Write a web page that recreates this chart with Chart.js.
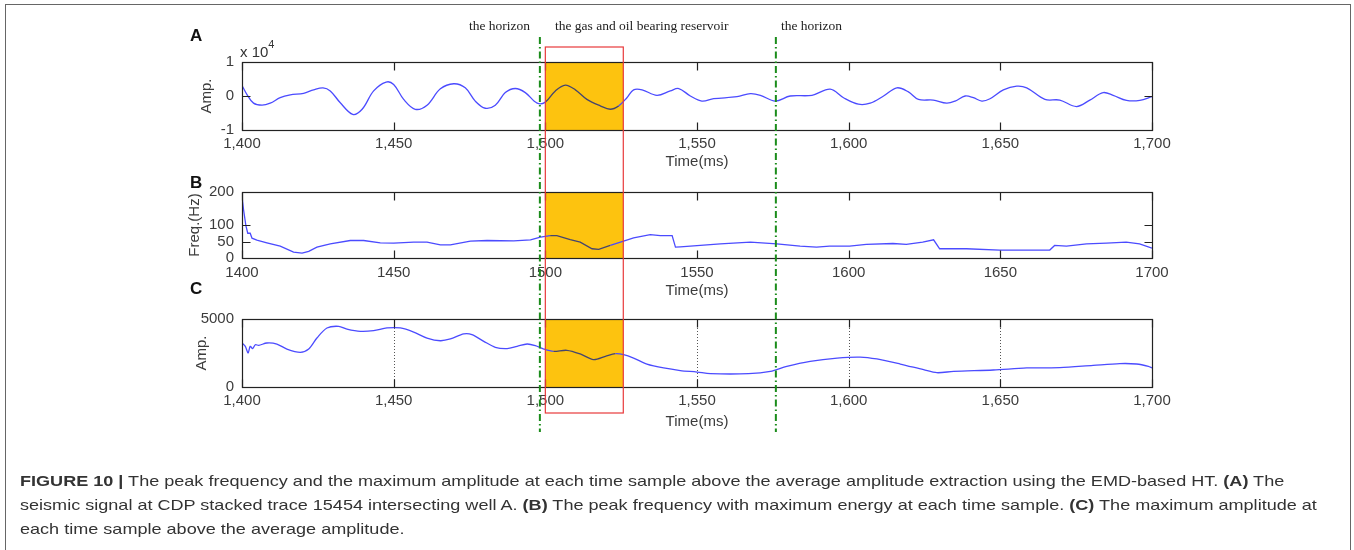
<!DOCTYPE html>
<html>
<head>
<meta charset="utf-8">
<title>Figure 10</title>
<script src="https://cdn.jsdelivr.net/npm/chart.js@4.4.1/dist/chart.umd.min.js"></script>
<style>
  body { margin:0; background:#fff; width:1354px; height:550px; overflow:hidden; position:relative;
         font-family:"Liberation Sans", Arial, sans-serif; }
  #frame { position:absolute; left:5px; top:4px; width:1344px; height:600px; border:1px solid #666; }
  canvas { position:absolute; left:0; }
  .panel { position:absolute; font-weight:bold; font-size:17px; color:#111; line-height:18px; }
  .note { position:absolute; top:18px; font-family:"Liberation Serif", "Times New Roman", serif;
          font-size:13.5px; color:#222; white-space:nowrap; }
  #scaleA { position:absolute; left:240px; top:38px; font-size:15px; color:#333; line-height:18px; }
  #scaleA sup { font-size:11px; position:relative; top:-3px; }
  #caption { position:absolute; left:20px; top:469px; font-size:15px; line-height:24px; color:#333;
             white-space:nowrap; transform:scaleX(1.204); transform-origin:0 0; }
</style>
</head>
<body>
<div id="frame"></div>

<canvas id="chartA" width="1354" height="175" style="top:0px"></canvas>
<canvas id="chartB" width="1354" height="125" style="top:175px"></canvas>
<canvas id="chartC" width="1354" height="135" style="top:300px"></canvas>
<canvas id="overlay" width="1354" height="550" style="top:0px"></canvas>

<div class="panel" style="left:190px;top:27px">A</div>
<div class="panel" style="left:190px;top:174px">B</div>
<div class="panel" style="left:190px;top:280px">C</div>
<div id="scaleA">x 10<sup>4</sup></div>

<div class="note" style="left:469px">the horizon</div>
<div class="note" style="left:555px">the gas and oil bearing reservoir</div>
<div class="note" style="left:781px">the horizon</div>

<div id="caption">
  <b>FIGURE 10 |</b> The peak frequency and the maximum amplitude at each time sample above the average amplitude extraction using the EMD-based HT. <b>(A)</b> The<br>
  seismic signal at CDP stacked trace 15454 intersecting well A. <b>(B)</b> The peak frequency with maximum energy at each time sample. <b>(C)</b> The maximum amplitude at<br>
  each time sample above the average amplitude.
</div>

<script>
// ---------- DATA ----------

// x axis, ms
var xTicks = [1400, 1450, 1500, 1550, 1600, 1650, 1700];

// markers
var horizons = [1498.2, 1576];
var reservoir = [1500, 1525.7];

// A: seismic signal (x 10^4)
var timeA = [1400, 1401.6, 1403.8, 1406.6, 1409.3, 1412.6, 1415.9, 1420.3, 1423.6, 1426.7,
  1429.1, 1432.4, 1436.5, 1439.6, 1443.4, 1447.5, 1450, 1453.3, 1457.1, 1461,
  1465.4, 1469.8, 1473.6, 1476.9, 1480.2, 1483.5, 1486.8, 1490.1, 1493.4, 1497.3,
  1500, 1503.3, 1506.6, 1509.9, 1513.7, 1518.1, 1521.4, 1524.2, 1526.9, 1529.1,
  1531.9, 1536.8, 1541.2, 1544, 1547.8, 1551.6, 1555.5, 1563.2, 1567.6, 1570.9,
  1575.8, 1580.7, 1587.9, 1593.9, 1598.3, 1603.2, 1607.1, 1611.5, 1615.9, 1619.7,
  1623, 1627.9, 1632.3, 1635.1, 1638.4, 1641.1, 1643.9, 1646.6, 1651, 1655.4,
  1658.7, 1664.7, 1669.6, 1675.1, 1679.5, 1683.9, 1687.2, 1691.6, 1696, 1700];
var ampA = [0.31, 0.05, -0.21, -0.27, -0.21, -0.05, 0.03, 0.08, 0.18, 0.24,
  0.15, -0.2, -0.54, -0.39, 0.15, 0.41, 0.34, -0.1, -0.39, -0.27,
  0.21, 0.36, 0.24, -0.15, -0.36, -0.27, 0.1, 0.22, 0.1, -0.21,
  -0.18, 0.15, 0.32, 0.18, -0.1, -0.29, -0.39, -0.29, -0.05, 0.18,
  0.18, 0.02, 0.15, 0.22, 0, -0.15, -0.08, -0.02, 0.07, 0.02,
  -0.15, 0, 0.02, 0.2, -0.05, -0.24, -0.21, 0, 0.24, 0.12,
  -0.1, -0.12, -0.21, -0.15, 0, -0.05, -0.15, -0.08, 0.18, 0.29,
  0.24, -0.1, -0.12, -0.31, -0.12, 0.1, 0.02, -0.13, -0.13, -0.02];
var yTicksA = [-1, 0, 1];

// B: peak frequency (Hz)
var timeB = [1400, 1400.5, 1401.3, 1401.9, 1402.7, 1403.3, 1404.9, 1408.2, 1412.6, 1417,
  1419.8, 1422, 1424.7, 1429.1, 1435.7, 1440.1, 1445.6, 1450, 1456.6, 1461,
  1465.4, 1468.7, 1475.3, 1480.8, 1489.6, 1495.1, 1498.4, 1501.6, 1503.8, 1508.2,
  1511.5, 1515.4, 1517.6, 1521.4, 1525.8, 1529.1, 1534.6, 1537.9, 1541.8, 1542.9,
  1544.5, 1551.1, 1557.7, 1567.6, 1576.3, 1584, 1589.4, 1593.7, 1600.3, 1605.8,
  1614.6, 1619, 1624.4, 1628, 1630, 1638.8, 1649.8, 1666.3, 1667.9, 1671.8,
  1678.4, 1685, 1691.5, 1695.9, 1700];
var freqB = [187, 147, 97, 75, 75, 60, 54, 46, 36, 18,
  15, 20, 33, 43, 53, 53, 46, 45, 48, 48,
  40, 40, 51, 53, 52, 55, 63, 68, 68, 56,
  48, 28, 26, 38, 51, 61, 71, 68, 68, 33,
  34, 38, 43, 48, 43, 36, 33, 36, 36, 41,
  44, 41, 48, 55, 28, 28, 24, 24, 38, 36,
  43, 45, 48, 43, 30];
var yTicksB = [0, 50, 100, 200];

// C: maximum amplitude above average
var timeC = [1400, 1401.1, 1402, 1402.7, 1403.5, 1404.4, 1405.5, 1408.2, 1411.5, 1414.8,
  1419.2, 1422, 1424.7, 1428, 1431.9, 1434.6, 1439, 1443.4, 1447.8, 1452.2,
  1456.6, 1461, 1465.4, 1468.7, 1473.1, 1475.8, 1479.7, 1483.5, 1487.4, 1490.7,
  1494, 1496.7, 1499.5, 1502.7, 1507.1, 1511.5, 1515.9, 1519.8, 1523.1, 1525.8,
  1529.1, 1533.5, 1539, 1544.5, 1550, 1554.4, 1567, 1574.2, 1579.6, 1587.3,
  1596.2, 1603.8, 1609.3, 1617, 1624.7, 1629.1, 1634.6, 1647.7, 1658.7, 1669.6,
  1680.6, 1689.4, 1694.9, 1698.8, 1700];
var ampC = [3235, 2990, 2500, 2990, 2820, 3110, 3060, 3235, 3160, 2790,
  2550, 2790, 3600, 4340, 4460, 4260, 4090, 4140, 4340, 4340,
  4040, 3600, 3400, 3530, 3900, 3850, 3360, 2920, 2820, 2990,
  3160, 3040, 2790, 2620, 2700, 2430, 2010, 2250, 2450, 2380,
  2130, 1690, 1400, 1210, 1100, 980, 980, 1150, 1520, 1890,
  2130, 2200, 2060, 1690, 1270, 1050, 1150, 1250, 1400, 1420,
  1590, 1720, 1690, 1520, 1400];
var yTicksC = [0, 5000];


// ---------- HELPERS ----------

var FONT = "'Liberation Sans', Arial, sans-serif";
var BLUE = "#4b4bff";
var DARK = "#45456e";
var YELLOW = "#fdc30f";

function toPoints(xs, ys) {
  return xs.map(function(x, i) { return {x: x, y: ys[i]}; });
}

function inReservoir(ctx) {
  return ctx.p0.parsed.x >= reservoir[0] && ctx.p1.parsed.x <= reservoir[1];
}

// matlab like box: yellow patch, inward ticks, optional dotted grid
function boxPlugin(dotted) {
  return {
    id: "matlabBox",
    beforeDatasetsDraw: function(chart) {
      var a = chart.chartArea, xs = chart.scales.x, ctx = chart.ctx;
      ctx.save();
      var x0 = xs.getPixelForValue(reservoir[0]);
      var x1 = xs.getPixelForValue(reservoir[1]);
      ctx.fillStyle = YELLOW;
      ctx.fillRect(x0, a.top, x1 - x0, a.bottom - a.top);
      if (dotted) {
        ctx.strokeStyle = "#555";
        ctx.lineWidth = 1;
        ctx.setLineDash([1, 2]);
        xTicks.forEach(function(t) {
          if (t === 1400 || t === 1700 || (t >= reservoir[0] && t <= reservoir[1])) return;
          var px = Math.round(xs.getPixelForValue(t)) + 0.5;
          ctx.beginPath();
          ctx.moveTo(px, a.top);
          ctx.lineTo(px, a.bottom);
          ctx.stroke();
        });
      }
      ctx.restore();
    },
    afterDraw: function(chart) {
      var a = chart.chartArea, ctx = chart.ctx;
      var l = Math.round(a.left) + 0.5, r = Math.round(a.right) + 0.5;
      var t = Math.round(a.top) + 0.5, b = Math.round(a.bottom) + 0.5;
      var len = 8;
      ctx.save();
      ctx.strokeStyle = "#222";
      ctx.lineWidth = 1.2;
      ctx.strokeRect(l, t, r - l, b - t);
      ctx.beginPath();
      chart.scales.x.ticks.forEach(function(tk) {
        var px = Math.round(chart.scales.x.getPixelForValue(tk.value)) + 0.5;
        ctx.moveTo(px, b); ctx.lineTo(px, b - len);
        ctx.moveTo(px, t); ctx.lineTo(px, t + len);
      });
      chart.scales.y.ticks.forEach(function(tk) {
        var py = Math.round(chart.scales.y.getPixelForValue(tk.value)) + 0.5;
        ctx.moveTo(l, py); ctx.lineTo(l + len, py);
        ctx.moveTo(r, py); ctx.lineTo(r - len, py);
      });
      ctx.stroke();
      ctx.restore();
    }
  };
}

function makeChart(id, points, opt) {
  return new Chart(document.getElementById(id), {
    type: "line",
    data: {
      datasets: [{
        data: points,
        borderColor: BLUE,
        borderWidth: 1.3,
        pointRadius: 0,
        tension: opt.tension,
        segment: {
          borderColor: function(ctx) { return inReservoir(ctx) ? DARK : undefined; }
        }
      }]
    },
    options: {
      responsive: false,
      animation: false,
      events: [],
      layout: { padding: { left: 180, right: 202, top: opt.top, bottom: 0 } },
      plugins: { legend: { display: false }, tooltip: { enabled: false } },
      scales: {
        x: {
          type: "linear",
          min: 1400,
          max: 1700,
          afterBuildTicks: function(scale) {
            scale.ticks = xTicks.map(function(v) { return {value: v}; });
          },
          afterFit: function(scale) { scale.height = opt.xHeight; },
          grid: { display: false, drawTicks: false },
          border: { display: false },
          ticks: {
            padding: opt.tickPad,
            maxRotation: 0,
            color: "#3c3c3c",
            font: { family: FONT, size: 15 },
            callback: function(v) { return opt.comma ? v.toLocaleString("en-US") : String(v); }
          },
          title: {
            display: true,
            text: "Time(ms)",
            color: "#3c3c3c",
            font: { family: FONT, size: 15 },
            padding: { top: opt.titlePad, bottom: opt.titlePad }
          }
        },
        y: {
          min: opt.yTicks[0],
          max: opt.yTicks[opt.yTicks.length - 1],
          afterBuildTicks: function(scale) {
            scale.ticks = opt.yTicks.map(function(v) { return {value: v}; });
          },
          afterFit: function(scale) { scale.width = 62; },
          grid: { display: false, drawTicks: false },
          border: { display: false },
          ticks: {
            padding: 8,
            color: "#3c3c3c",
            font: { family: FONT, size: 15 },
            callback: function(v) { return String(v); }
          },
          title: {
            display: true,
            text: opt.yTitle,
            color: "#3c3c3c",
            font: { family: FONT, size: 15 },
            padding: { top: opt.yTitlePad, bottom: opt.yTitlePad }
          }
        }
      }
    },
    plugins: [boxPlugin(opt.dotted)]
  });
}


// ---------- CHARTS ----------

var chartA = makeChart("chartA", toPoints(timeA, ampA), {
  top: 62, xHeight: 45, tickPad: 5, titlePad: 4, comma: true,
  yTicks: yTicksA, yTitle: "Amp.", yTitlePad: 17.5, tension: 0.35, dotted: false
});

var chartB = makeChart("chartB", toPoints(timeB, freqB), {
  top: 16, xHeight: 42, tickPad: 6, titlePad: 0, comma: false,
  yTicks: yTicksB, yTitle: "Freq.(Hz)", yTitlePad: 6, tension: 0, dotted: false
});

var chartC = makeChart("chartC", toPoints(timeC, ampC), {
  top: 19, xHeight: 48, tickPad: 5, titlePad: 4, comma: true,
  yTicks: yTicksC, yTitle: "Amp.", yTitlePad: 12.5, tension: 0.3, dotted: true
});


// ---------- OVERLAY (horizons + reservoir box) ----------

var ov = document.getElementById("overlay").getContext("2d");
var xs = chartA.scales.x;
var boxTop = chartA.chartArea.top - 15;
var boxBottom = 300 + chartC.chartArea.bottom + 26;

ov.strokeStyle = "#e8393b";
ov.lineWidth = 1.2;
var rx0 = xs.getPixelForValue(reservoir[0]);
var rx1 = xs.getPixelForValue(reservoir[1]);
ov.strokeRect(rx0, boxTop, rx1 - rx0, boxBottom - boxTop);

ov.strokeStyle = "#1b8c1b";
ov.lineWidth = 2;
ov.setLineDash([7, 3, 1.5, 3]);
horizons.forEach(function(h) {
  var px = xs.getPixelForValue(h);
  ov.beginPath();
  ov.moveTo(px, 37);
  ov.lineTo(px, 432);
  ov.stroke();
});
</script>
</body>
</html>
